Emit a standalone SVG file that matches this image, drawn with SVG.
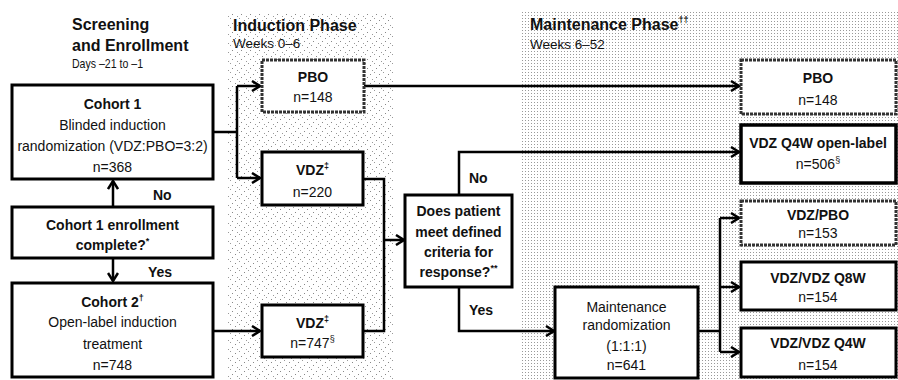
<svg xmlns="http://www.w3.org/2000/svg" width="898" height="380" viewBox="0 0 898 380">
<style>
text{font-family:"Liberation Sans",Arial,sans-serif;fill:#111}
.h{font-size:16px;font-weight:bold}
.sub{font-size:13.5px}
.t{font-size:14px;text-anchor:middle}
.tb{font-size:14px;font-weight:bold;text-anchor:middle}
.lbl{font-size:14px;font-weight:bold}
.box{fill:#fff;stroke:#000;stroke-width:3}
.dbox{fill:#fff;stroke:#333;stroke-width:3;stroke-dasharray:3 1}
.c{fill:none;stroke:#000;stroke-width:2.5}
.sup{font-size:9px}
</style>
<defs>
<pattern id="stip" width="9" height="9" patternUnits="userSpaceOnUse">
<rect x="1" y="2" width="1" height="1" fill="#888"/>
<rect x="5" y="0" width="1" height="1" fill="#999"/>
<rect x="7" y="5" width="1" height="1" fill="#888"/>
<rect x="3" y="7" width="1" height="1" fill="#999"/>
</pattern>
<pattern id="grid" width="3" height="3" patternUnits="userSpaceOnUse">
<rect x="0" y="0" width="1" height="1" fill="#999"/>
</pattern>
<marker id="arr" markerWidth="12" markerHeight="12" refX="10" refY="6" orient="auto" markerUnits="userSpaceOnUse">
<path d="M2,1 L10,6 L2,11" fill="none" stroke="#000" stroke-width="2.5"/>
</marker>
</defs>
<rect width="898" height="380" fill="#fff"/>
<rect x="228" y="12" width="166" height="368" fill="url(#stip)"/>
<rect x="520" y="12" width="378" height="368" fill="url(#grid)"/>

<g id="headings">
<text class="h" x="72" y="30">Screening</text>
<text class="h" x="72" y="51">and Enrollment</text>
<text class="sub" x="72" y="68" textLength="71" lengthAdjust="spacingAndGlyphs">Days –21 to –1</text>
<text class="h" x="233" y="31">Induction Phase</text>
<text class="sub" x="233" y="48">Weeks 0–6</text>
<text class="h" x="530" y="30">Maintenance Phase<tspan class="sup" dy="-7">††</tspan></text>
<text class="sub" x="530" y="49">Weeks 6–52</text>
</g>

<g id="connectors">
<path class="c" d="M113,207 V181" marker-end="url(#arr)"/>
<path class="c" d="M113,258 V281" marker-end="url(#arr)"/>
<path class="c" d="M213,132 H237 M237,86 V178"/>
<path class="c" d="M237,86 H260" marker-end="url(#arr)"/>
<path class="c" d="M237,178 H260" marker-end="url(#arr)"/>
<path class="c" d="M213,331 H260" marker-end="url(#arr)"/>
<path class="c" d="M364,86 H739" marker-end="url(#arr)"/>
<path class="c" d="M363,179 H384 V331 H363"/>
<path class="c" d="M384,240 H404" marker-end="url(#arr)"/>
<path class="c" d="M459,195 V152 H739" marker-end="url(#arr)"/>
<path class="c" d="M459,287 V331 H554" marker-end="url(#arr)"/>
<path class="c" d="M698,331 H720 M720,218 V352"/>
<path class="c" d="M720,218 H739" marker-end="url(#arr)"/>
<path class="c" d="M720,287 H739" marker-end="url(#arr)"/>
<path class="c" d="M720,352 H739" marker-end="url(#arr)"/>
<text class="lbl" x="153" y="200">No</text>
<text class="lbl" x="148" y="277">Yes</text>
<text class="lbl" x="469" y="183">No</text>
<text class="lbl" x="469" y="315">Yes</text>
</g>

<g id="cohort1">
<rect class="box" x="12" y="85" width="201" height="94"/>
<text class="tb" x="112.5" y="109">Cohort 1</text>
<text class="t" x="112.5" y="130">Blinded induction</text>
<text class="t" x="112.5" y="151">randomization (VDZ:PBO=3:2)</text>
<text class="t" x="112.5" y="172">n=368</text>
</g>

<g id="enrollment">
<rect class="box" x="12" y="207" width="201" height="51"/>
<text class="tb" x="112.5" y="230">Cohort 1 enrollment</text>
<text class="tb" x="112.5" y="250">complete?<tspan class="sup" dy="-6">*</tspan></text>
</g>

<g id="cohort2">
<rect class="box" x="12" y="283" width="201" height="94"/>
<text class="tb" x="112.5" y="307">Cohort 2<tspan class="sup" dy="-6">†</tspan></text>
<text class="t" x="112.5" y="327">Open-label induction</text>
<text class="t" x="112.5" y="349">treatment</text>
<text class="t" x="112.5" y="370">n=748</text>
</g>

<g id="ind-pbo">
<rect class="dbox" x="262" y="60" width="102" height="52"/>
<text class="tb" x="313" y="82">PBO</text>
<text class="t" x="313" y="102">n=148</text>
</g>

<g id="ind-vdz1">
<rect class="box" x="262" y="152" width="101" height="53"/>
<text class="tb" x="312.5" y="175">VDZ<tspan class="sup" dy="-6">‡</tspan></text>
<text class="t" x="312.5" y="197">n=220</text>
</g>

<g id="ind-vdz2">
<rect class="box" x="262" y="305" width="101" height="52"/>
<text class="tb" x="312.5" y="328">VDZ<tspan class="sup" dy="-6">‡</tspan></text>
<text class="t" x="312.5" y="348">n=747<tspan class="sup" dy="-6">§</tspan></text>
</g>

<g id="decision">
<rect class="box" x="405" y="195" width="107" height="92"/>
<text class="tb" x="458.5" y="216">Does patient</text>
<text class="tb" x="458.5" y="237">meet defined</text>
<text class="tb" x="458.5" y="257">criteria for</text>
<text class="tb" x="458.5" y="277">response?<tspan class="sup" dy="-6">**</tspan></text>
</g>

<g id="maint-rand">
<rect class="box" x="555" y="287" width="143" height="91"/>
<text class="t" x="626.5" y="312">Maintenance</text>
<text class="t" x="626.5" y="330">randomization</text>
<text class="t" x="626.5" y="351">(1:1:1)</text>
<text class="t" x="626.5" y="370">n=641</text>
</g>

<g id="m-pbo">
<rect class="dbox" x="741" y="60" width="155" height="54"/>
<text class="tb" x="818" y="83">PBO</text>
<text class="t" x="818" y="105">n=148</text>
</g>

<g id="m-openlabel">
<rect class="box" x="741" y="125" width="155" height="58" style="stroke-width:3.5"/>
<text class="tb" x="818" y="148">VDZ Q4W open-label</text>
<text class="t" x="818" y="169">n=506<tspan class="sup" dy="-6">§</tspan></text>
</g>

<g id="m-vdzpbo">
<rect class="dbox" x="741" y="201" width="155" height="44"/>
<text class="tb" x="818" y="220">VDZ/PBO</text>
<text class="t" x="818" y="238">n=153</text>
</g>

<g id="m-q8w">
<rect class="box" x="741" y="262" width="155" height="48"/>
<text class="tb" x="818" y="283">VDZ/VDZ Q8W</text>
<text class="t" x="818" y="302">n=154</text>
</g>

<g id="m-q4w">
<rect class="box" x="741" y="328" width="155" height="49"/>
<text class="tb" x="818" y="348">VDZ/VDZ Q4W</text>
<text class="t" x="818" y="370">n=154</text>
</g>
</svg>
